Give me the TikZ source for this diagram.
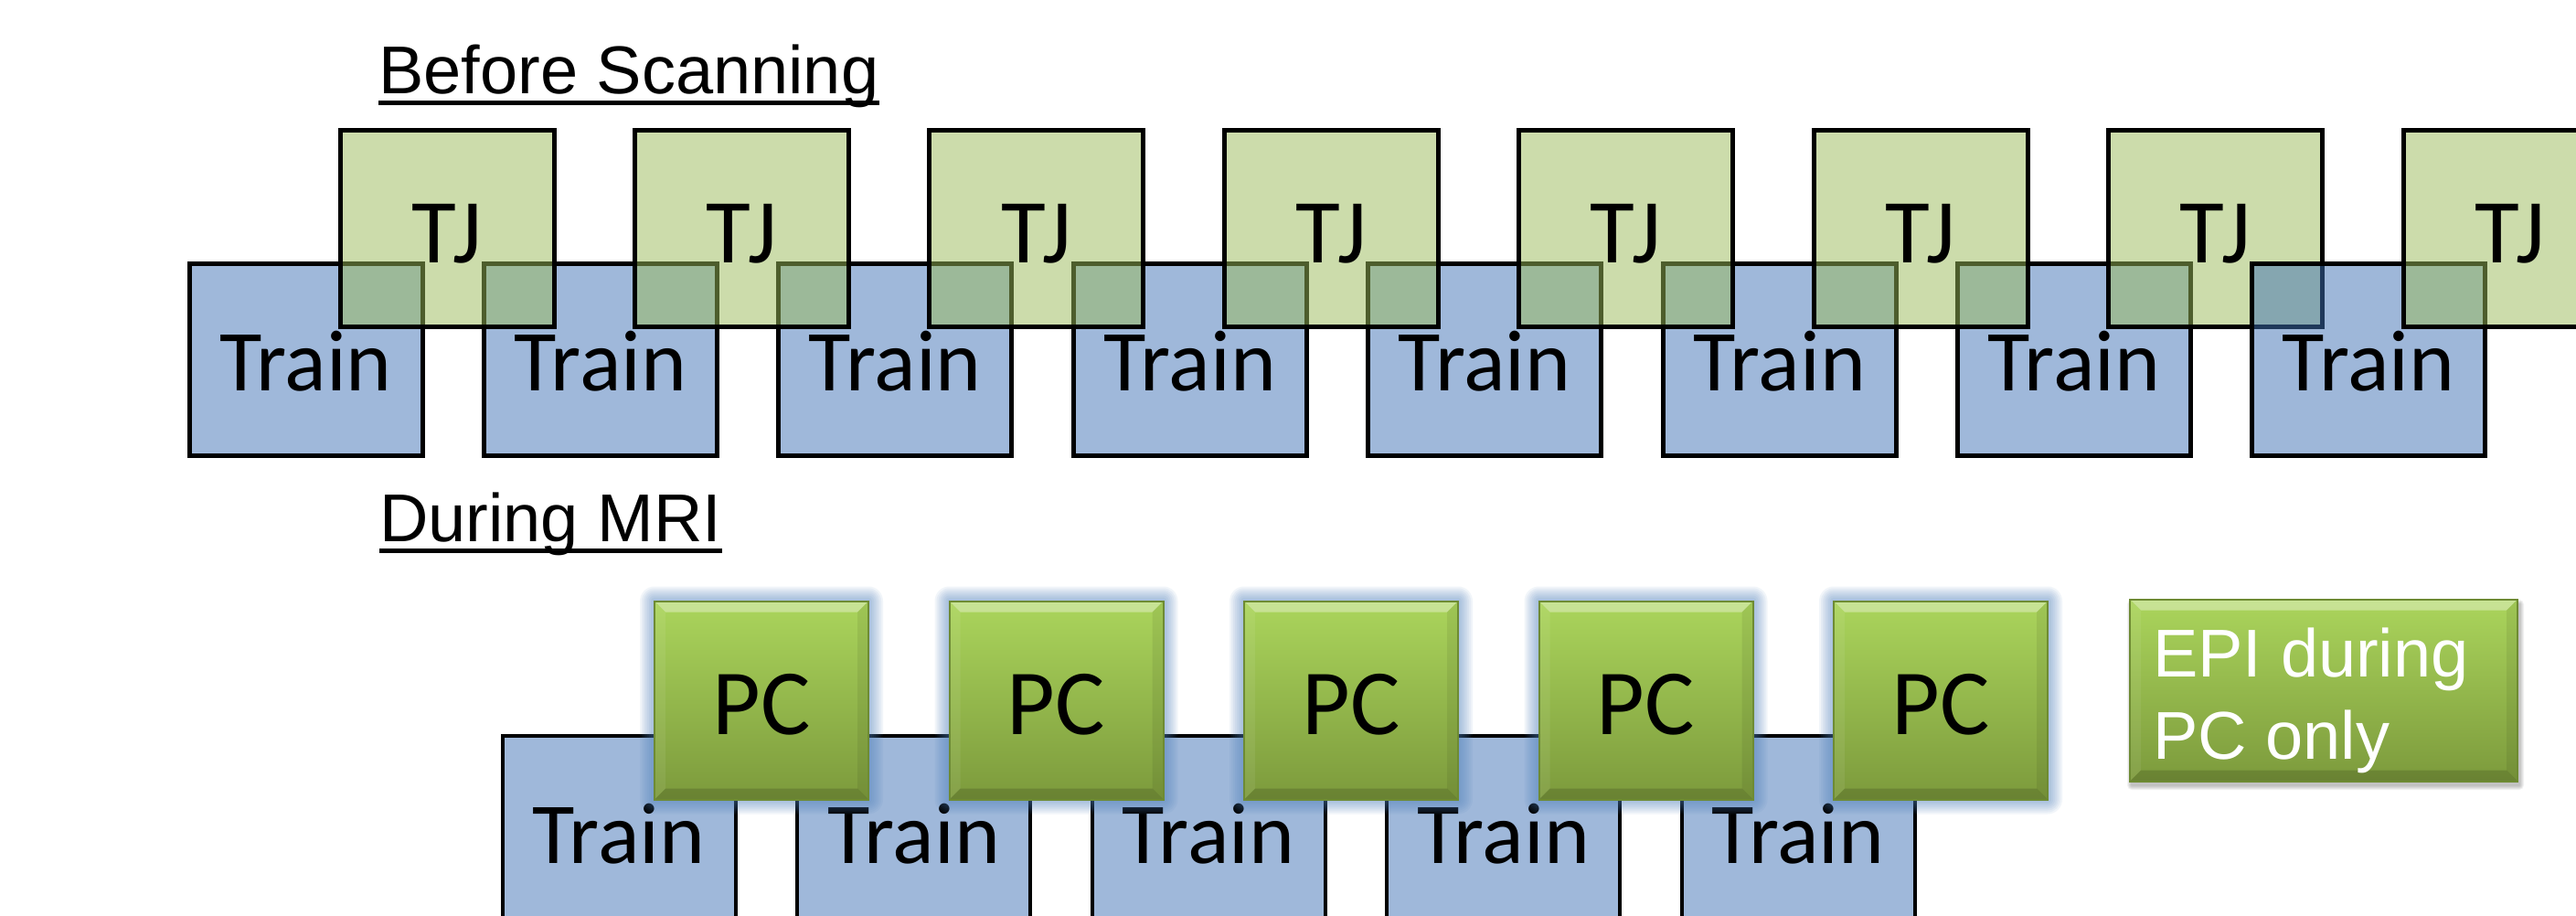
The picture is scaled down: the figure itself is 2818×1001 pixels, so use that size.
\documentclass[tikz,border=0pt]{standalone}
\usepackage{fontspec}
\setmainfont{Liberation Sans}
\newfontfamily\calib{Carlito}
\definecolor{trainblue}{HTML}{9FB8DA}
\definecolor{trainbluetr}{HTML}{3F71B5}
\definecolor{tjgreen}{HTML}{9BBB59}
\definecolor{pctop}{HTML}{ABD55C}
\definecolor{pcmid}{HTML}{97BC4A}
\definecolor{pcbot}{HTML}{7C9A3C}
\definecolor{pcborder}{HTML}{6E8B33}
\definecolor{glowblue}{HTML}{4F81BD}
\begin{document}
\begin{tikzpicture}[x=1pt,y=-1pt,
  trainbox/.style={draw=black, line width=5pt, fill=trainblue, minimum width=255pt, minimum height=210pt, inner sep=0pt, text height=68pt, text depth=0pt, font=\calib\fontsize{95}{95}\selectfont},
  tjbox/.style={draw=black, line width=5pt, fill=tjgreen, fill opacity=0.5, text opacity=1, minimum width=234pt, minimum height=215pt, inner sep=0pt, text height=74pt, text depth=0pt, font=\calib\fontsize{100}{100}\selectfont},
  bevel/.style={path picture={
    \fill[white, opacity=0.35] (path picture bounding box.north west) -- (path picture bounding box.north east) -- ([shift={(-12,12)}]path picture bounding box.north east) -- ([shift={(12,12)}]path picture bounding box.north west) -- cycle;
    \fill[black, opacity=0.15] (path picture bounding box.south west) -- (path picture bounding box.south east) -- ([shift={(-12,-12)}]path picture bounding box.south east) -- ([shift={(12,-12)}]path picture bounding box.south west) -- cycle;
    \fill[black, opacity=0.07] (path picture bounding box.north east) -- (path picture bounding box.south east) -- ([shift={(-12,-12)}]path picture bounding box.south east) -- ([shift={(-12,12)}]path picture bounding box.north east) -- cycle;
    \fill[white, opacity=0.07] (path picture bounding box.north west) -- (path picture bounding box.south west) -- ([shift={(12,-12)}]path picture bounding box.south west) -- ([shift={(12,12)}]path picture bounding box.north west) -- cycle;
  }},
  pcbox/.style={bevel, draw=pcborder, line width=2pt, top color=pctop, middle color=pcmid, bottom color=pcbot, minimum width=234pt, minimum height=217pt, inner sep=0pt, text height=74pt, text depth=0pt, font=\calib\fontsize{102}{102}\selectfont},
  epibox/.style={bevel, draw=pcborder, line width=2pt, top color=pctop, middle color=pcmid, bottom color=pcbot, minimum width=424pt, minimum height=199pt, inner sep=0pt},
  epitext/.style={anchor=base west, inner sep=0pt, text=white, font=\fontsize{74}{74}\selectfont},
  header/.style={anchor=base west, inner sep=0pt, font=\fontsize{74}{74}\selectfont},
  uline/.style={line width=5pt},
  glowring/.style={fill=glowblue, opacity=0.08}
]
\useasboundingbox (0,0) rectangle (2818,1001);
\fill[white] (0,0) rectangle (2818,1001);

% Before scanning
\node[header] (hb) at (414,102) {Before Scanning};
\draw[uline] ([yshift=-10pt]hb.base west) -- ([yshift=-10pt]hb.base east);

\foreach \i in {1,...,7} {
  \node[trainbox] (tr\i) at ({334.5+322.4*(\i-1)},393) {Train};
}
\foreach \i in {1,...,7} {
  \node[tjbox] (tj\i) at ({489+322.4*(\i-1)},250) {TJ};
}
\node[trainbox, fill=trainbluetr, fill opacity=0.5, text opacity=1] (tr8) at (2591,393) {Train};
\node[tjbox] (tj8) at (2746,250) {TJ};

% During MRI
\node[header] (hd) at (415,592) {During MRI};
\draw[uline] ([yshift=-10pt]hd.base west) -- ([yshift=-10pt]hd.base east);

\foreach \j in {1,...,5} {
  \node[trainbox, line width=4pt] (bt\j) at ({677+322.5*(\j-1)},910) {Train};
}
% glow behind the PC boxes
\foreach \j in {1,...,5} {
  \foreach \k in {2,4,...,16} {
    \fill[glowring, rounded corners=\k pt] ({833+322.5*(\j-1)-117-\k},{657.5-\k}) rectangle ({833+322.5*(\j-1)+117+\k},{874.5+\k});
  }
}
\foreach \j in {1,...,5} {
  \node[pcbox] (pc\j) at ({833+322.5*(\j-1)},766) {PC};
}

% EPI legend box with soft shadow
\foreach \k in {1,2,...,5} {
  \fill[black, opacity=0.05, rounded corners=\k pt] ({2330-\k+2},{656-\k+5}) rectangle ({2754+\k+2},{854+\k+5});
}
\node[epibox] (epi) at (2542,755) {};
\node[epitext] (epi1) at (2355,740) {EPI during};
\node[epitext] (epi2) at (2355,830) {PC only};
\end{tikzpicture}
\end{document}
